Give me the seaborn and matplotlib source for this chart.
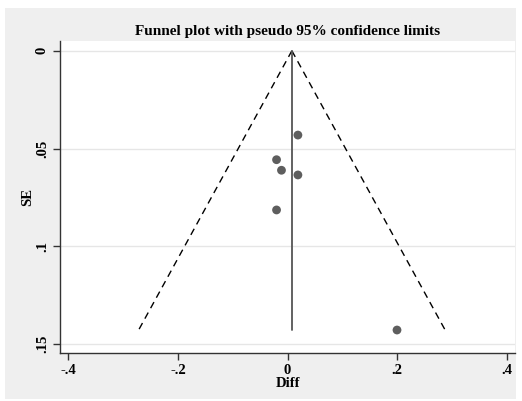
import matplotlib
matplotlib.use("Agg")
import matplotlib.pyplot as plt
import numpy as np
import pandas as pd
import seaborn as sns
from matplotlib.patches import Rectangle

# study effects and standard errors
diff = [0.019, -0.020, -0.011, 0.019, -0.020, 0.200]
se = [0.0431, 0.0557, 0.0611, 0.0635, 0.0814, 0.1428]

# pooled estimate (fixed effect)
theta = 0.008

x_ticks = [-0.4, -0.2, 0, 0.2, 0.4]
x_labels = ["-.4", "-.2", "0", ".2", ".4"]
y_ticks = [0, 0.05, 0.1, 0.15]
y_labels = ["0", ".05", ".1", ".15"]

sns.set_theme(style="white")
plt.rcParams["font.family"] = ["Liberation Serif", "DejaVu Serif"]
plt.rcParams["font.weight"] = "bold"
plt.rcParams["text.color"] = "black"
plt.rcParams["axes.labelcolor"] = "black"
plt.rcParams["xtick.color"] = "black"
plt.rcParams["ytick.color"] = "black"

fig = plt.figure(figsize=(5.22, 4.01), dpi=100)
fig.patch.set_facecolor("white")
fig.patches.append(
    Rectangle((5 / 522, 2 / 401), 511 / 522, 391 / 401,
              transform=fig.transFigure, facecolor="#efefef",
              edgecolor="none", zorder=-10)
)
ax = fig.add_axes([60 / 522, 1 - 352.7 / 401, 455 / 522, 311.7 / 401])
ax.set_zorder(1)
ax.set_facecolor("white")

df = pd.DataFrame({"Diff": diff, "SE": se})
se_max = max(se)
funnel = pd.DataFrame({
    "se": [0, se_max],
    "lo": [theta, theta - 1.96 * se_max],
    "hi": [theta, theta + 1.96 * se_max],
    "mid": [theta, theta],
})

for y in y_ticks:
    ax.axhline(y, color="#e6e6e6", lw=1.0, zorder=0)

sns.lineplot(data=funnel, x="lo", y="se", ax=ax, color="black", lw=1.0,
             linestyle=(0, (5, 3.6)), sort=False, estimator=None)
sns.lineplot(data=funnel, x="hi", y="se", ax=ax, color="black", lw=1.0,
             linestyle=(0, (5, 3.6)), sort=False, estimator=None)
sns.lineplot(data=funnel, x="mid", y="se", ax=ax, color="#555555", lw=1.3,
             sort=False, estimator=None)
sns.scatterplot(data=df, x="Diff", y="SE", ax=ax, color="#5e5e5e", s=40,
                edgecolor="none", zorder=5)

ax.set_xlim(-0.4155, 0.4155)
ax.set_ylim(0.1544, -0.005)
ax.set_xticks(x_ticks)
ax.set_xticklabels(x_labels, fontsize=10.5, fontweight="bold")
ax.set_yticks(y_ticks)
ax.set_yticklabels(y_labels, fontsize=10.5, fontweight="bold", rotation=90,
                   va="center")
ax.tick_params(axis="both", direction="out", length=5, width=1,
               color="#333333", left=True, bottom=True, pad=3)
ax.set_xlabel("Diff", fontsize=10.5, fontweight="bold", labelpad=0)
ax.set_ylabel("SE", fontsize=10.5, fontweight="bold", labelpad=1)

for s in ["top", "right"]:
    ax.spines[s].set_visible(False)
for s in ["left", "bottom"]:
    ax.spines[s].set_color("#333333")
    ax.spines[s].set_linewidth(1.0)

fig.text(287.5 / 522, 1 - 32 / 401, "Funnel plot with pseudo 95% confidence limits",
         ha="center", va="center", fontsize=11, fontweight="bold",
         color="black")

fig.savefig("out.png", dpi=100)
